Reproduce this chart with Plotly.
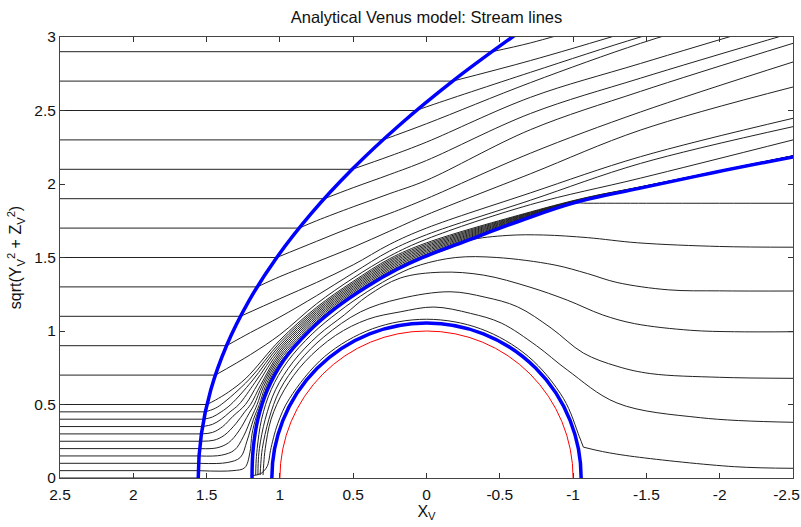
import plotly.graph_objects as go

title_text = "Analytical Venus model: Stream lines"
x_ticks = [2.5, 2, 1.5, 1, 0.5, 0, -0.5, -1, -1.5, -2, -2.5]
x_tick_labels = ["2.5", "2", "1.5", "1", "0.5", "0", "-0.5", "-1", "-1.5", "-2", "-2.5\u00a0\u00a0\u00a0"]
y_ticks = [0, 0.5, 1, 1.5, 2, 2.5, 3]
y_tick_labels = ["0", "0.5", "1", "1.5", "2", "2.5", "3"]

# upstream (solar wind) stream lines: height and x where they meet the bow shock
upstream_y = [0, 0.05, 0.1, 0.15, 0.2, 0.25, 0.3, 0.35, 0.4, 0.45, 0.5,
              0.7, 0.9, 1.1, 1.3, 1.5, 1.7, 1.9, 2.1, 2.3, 2.5, 2.7, 2.9]
shock_cross_x = [1.557, 1.5564, 1.5546, 1.5516, 1.5475, 1.5421, 1.5356, 1.5278, 1.5189, 1.5088, 1.4975,
                 1.4403, 1.3641, 1.2689, 1.1546, 1.0213, 0.8689, 0.6975, 0.507, 0.2975, 0.069, -0.1787, -0.4454]
upstream_x_start = 2.5

# boundaries
bow_shock_x = [1.5356, 1.557, 1.5356, 1.4713, 1.3641, 1.2141, 1.0213, 0.7856, 0.507, 0.1856, -0.1787, -0.5859, -0.7311]
bow_shock_y = [-0.3, 0.0, 0.3, 0.6, 0.9, 1.2, 1.5, 1.8, 2.1, 2.4, 2.7, 3.0, 3.1]
boundary_x = [1.182, 1.19, 1.182, 1.150, 1.085, 0.975, 0.80, 0.62, 0.41, 0.20, 0.041, -0.29, -0.64, -1.0, -1.45, -1.97, -2.51]
boundary_y = [-0.2, 0.0, 0.2, 0.4, 0.6, 0.8, 1.0, 1.156, 1.3, 1.42, 1.494, 1.62, 1.75, 1.87, 1.97, 2.08, 2.186]
obstacle_radius = 1.055
planet_radius = 1.0

# dense sheath bundle (upstream heights 0.05 ... 0.5), from the bow shock onward
b1_x = [1.5564, 1.32, 1.24, 1.205, 1.19, 1.16, 1.13, 1.09, 1.0, 0.75, 0.5, 0.25, 0, -0.71, -1.1, -1.46, -2.5]
b1_y = [0.05, 0.05, 0.07, 0.17, 0.30, 0.42, 0.5, 0.62, 0.785, 1.053, 1.243, 1.398, 1.514, 1.776, 1.892, 1.972, 2.187]
b2_x = [1.5546, 1.36, 1.27, 1.225, 1.18, 1.14, 1.10, 1.0, 0.75, 0.5, 0.25, 0, -0.71, -1.1, -1.46, -2.5]
b2_y = [0.1, 0.105, 0.14, 0.25, 0.40, 0.5, 0.62, 0.802, 1.065, 1.2535, 1.4085, 1.5235, 1.7798, 1.894, 1.973, 2.1876]
b3_x = [1.5516, 1.40, 1.31, 1.25, 1.19, 1.155, 1.11, 1.0, 0.75, 0.5, 0.25, 0, -0.71, -1.1, -1.46, -2.5]
b3_y = [0.15, 0.155, 0.19, 0.28, 0.42, 0.5, 0.625, 0.819, 1.077, 1.264, 1.419, 1.533, 1.7836, 1.896, 1.974, 2.1882]
b4_x = [1.5475, 1.43, 1.35, 1.28, 1.21, 1.175, 1.12, 1.0, 0.75, 0.5, 0.25, 0, -0.71, -1.1, -1.46, -2.5]
b4_y = [0.2, 0.205, 0.24, 0.32, 0.44, 0.5, 0.63, 0.836, 1.089, 1.2745, 1.4295, 1.5425, 1.7874, 1.898, 1.975, 2.1888]
b5_x = [1.5421, 1.45, 1.38, 1.30, 1.24, 1.20, 1.13, 1.0, 0.75, 0.5, 0.25, 0, -0.71, -1.1, -1.46, -2.5]
b5_y = [0.25, 0.257, 0.29, 0.37, 0.45, 0.5, 0.635, 0.853, 1.101, 1.285, 1.44, 1.552, 1.7912, 1.90, 1.976, 2.1894]
b6_x = [1.5356, 1.46, 1.39, 1.32, 1.235, 1.15, 1.0, 0.75, 0.5, 0.25, 0, -0.71, -1.1, -1.46, -2.5]
b6_y = [0.3, 0.31, 0.35, 0.42, 0.5, 0.64, 0.87, 1.113, 1.2955, 1.4505, 1.5615, 1.795, 1.902, 1.977, 2.19]
b7_x = [1.5278, 1.46, 1.40, 1.34, 1.28, 1.17, 1.0, 0.75, 0.5, 0.25, 0, -0.71, -1.1, -1.46, -2.5]
b7_y = [0.35, 0.365, 0.40, 0.45, 0.5, 0.65, 0.887, 1.125, 1.306, 1.461, 1.571, 1.7988, 1.904, 1.978, 2.1906]
b8_x = [1.5189, 1.46, 1.40, 1.335, 1.19, 1.0, 0.75, 0.5, 0.25, 0, -0.71, -1.1, -1.46, -2.5]
b8_y = [0.4, 0.415, 0.45, 0.5, 0.66, 0.904, 1.137, 1.3165, 1.4715, 1.5805, 1.8026, 1.906, 1.979, 2.1912]
b9_x = [1.5088, 1.45, 1.40, 1.21, 1.0, 0.75, 0.5, 0.25, 0, -0.71, -1.1, -1.46, -2.5]
b9_y = [0.45, 0.47, 0.5, 0.67, 0.921, 1.149, 1.327, 1.482, 1.59, 1.8064, 1.908, 1.980, 2.1918]
b10_x = [1.4975, 1.44, 1.35, 1.23, 1.0, 0.75, 0.5, 0.25, 0, -0.71, -1.1, -1.46, -2.5]
b10_y = [0.5, 0.53, 0.585, 0.68, 0.938, 1.161, 1.3375, 1.4925, 1.5995, 1.8102, 1.910, 1.981, 2.1924]

# sheath stream lines (upstream heights 0.7 ... 2.9), from the bow shock onward
s07_x = [1.4403, 1.2, 1.0, 0.75, 0.5, 0.25, 0, -0.71, -1.46, -2.5]
s07_y = [0.7, 0.84, 0.975, 1.185, 1.36, 1.51, 1.625, 1.86, 2.04, 2.30]
s09_x = [1.3641, 1.2, 1.0, 0.75, 0.5, 0.25, 0, -0.71, -1.46, -2.5]
s09_y = [0.9, 0.99, 1.095, 1.24, 1.395, 1.545, 1.655, 1.89, 2.14, 2.39]
s11_x = [1.2689, 1.0, 0.75, 0.5, 0.25, 0, -0.71, -1.46, -2.5]
s11_y = [1.1, 1.22, 1.33, 1.45, 1.59, 1.70, 1.94, 2.186, 2.447]
s13_x = [1.1546, 1.0, 0.75, 0.5, 0.25, 0, -0.71, -1.46, -2.5]
s13_y = [1.3, 1.37, 1.47, 1.57, 1.68, 1.79, 2.07, 2.367, 2.66]
s15_x = [1.0213, 0.75, 0.5, 0.25, 0, -0.71, -1.46, -2.5]
s15_y = [1.5, 1.61, 1.71, 1.80, 1.90, 2.21, 2.49, 2.83]
s17_x = [0.8689, 0.75, 0.5, 0.25, 0, -0.71, -1.46, -2.5]
s17_y = [1.7, 1.75, 1.845, 1.935, 2.025, 2.37, 2.63, 2.957]
s19_x = [0.6975, 0.5, 0.25, 0, -0.71, -1.46, -2.5]
s19_y = [1.9, 1.975, 2.065, 2.16, 2.48, 2.72, 3.03]
s21_x = [0.507, 0.25, 0, -0.71, -1.46, -2.5]
s21_y = [2.1, 2.19, 2.285, 2.59, 2.82, 3.13]
s23_x = [0.2975, 0, -0.71, -1.46, -2.0]
s23_y = [2.3, 2.41, 2.69, 2.957, 3.12]
s25_x = [0.069, 0, -0.71, -1.46, -2.0]
s25_y = [2.5, 2.525, 2.76, 3.0, 3.15]
s27_x = [-0.1787, -0.71, -1.46]
s27_y = [2.7, 2.84, 3.06]
s29_x = [-0.4454, -0.71, -1.2]
s29_y = [2.9, 2.96, 3.1]

# stream lines inside the induced magnetosphere boundary
l1_x = [1.2, 1.13, 1.088, 1.075, 1.064, 1.015, 0.935, 0.694, 0.369, 0, -0.369, -0.694, -0.935, -1.043, -1.07]
l1_y = [0.015, 0.03, 0.077, 0.12, 0.188, 0.369, 0.54, 0.827, 1.015, 1.08, 1.015, 0.827, 0.54, 0.28, 0.21]
l1_tail_x = [-1.07, -1.2, -1.42, -2.1, -2.5]
l1_tail_y = [0.21, 0.18, 0.145, 0.077, 0.066]
l2_x = [1.115, 1.11, 1.10, 1.06, 0.97, 0.83, 0.62, 0.40, 0.18, -0.05, -0.3, -0.51, -0.75, -0.96, -1.30, -1.87, -2.5]
l2_y = [0.02, 0.1, 0.2, 0.4, 0.6, 0.79, 0.97, 1.08, 1.13, 1.163, 1.12, 1.054, 0.9, 0.735, 0.51, 0.41, 0.379]
l3_x = [1.135, 1.13, 1.12, 1.075, 1.0, 0.87, 0.70, 0.45, 0.18, -0.16, -0.40, -0.62, -0.85, -1.07, -1.30, -1.53, -2.0, -2.5]
l3_y = [0.02, 0.1, 0.2, 0.4, 0.6, 0.79, 0.96, 1.13, 1.22, 1.267, 1.23, 1.165, 1.02, 0.85, 0.76, 0.71, 0.685, 0.678]
l4_x = [1.15, 1.148, 1.14, 1.10, 1.03, 0.91, 0.74, 0.56, 0.40, 0.18, -0.1, -0.39, -0.7, -0.96, -1.2, -1.42, -1.8, -2.1, -2.5]
l4_y = [0.02, 0.1, 0.2, 0.4, 0.6, 0.79, 0.97, 1.11, 1.24, 1.36, 1.40, 1.38, 1.30, 1.21, 1.11, 1.05, 1.005, 0.995, 0.995]
l5_x = [1.165, 1.163, 1.155, 1.125, 1.06, 0.95, 0.78, 0.60, 0.40, 0.2, 0.04, -0.2, -0.48, -0.87, -1.1, -1.30, -1.65, -2.0, -2.5]
l5_y = [0.02, 0.1, 0.2, 0.4, 0.6, 0.79, 0.98, 1.13, 1.27, 1.385, 1.45, 1.50, 1.50, 1.45, 1.39, 1.33, 1.28, 1.273, 1.272]
l6_x = [1.19, 1.182, 1.150, 1.085, 0.975, 0.80, 0.62, 0.41, 0.20, 0.041, -0.15, -0.29, -0.55, -0.8, -1.1, -1.44, -2.0, -2.5]
l6_y = [0.0, 0.2, 0.4, 0.6, 0.8, 1.0, 1.156, 1.3, 1.42, 1.494, 1.56, 1.617, 1.65, 1.653, 1.635, 1.60, 1.575, 1.57]
l7_x = [0.041, -0.29, -0.64, -1.0, -1.1, -1.5, -2.0, -2.5]
l7_y = [1.494, 1.62, 1.75, 1.868, 1.869, 1.869, 1.869, 1.869]

sheath_lines = [(b1_x, b1_y), (b2_x, b2_y), (b3_x, b3_y), (b4_x, b4_y), (b5_x, b5_y),
                (b6_x, b6_y), (b7_x, b7_y), (b8_x, b8_y), (b9_x, b9_y), (b10_x, b10_y),
                (s07_x, s07_y), (s09_x, s09_y), (s11_x, s11_y), (s13_x, s13_y), (s15_x, s15_y),
                (s17_x, s17_y), (s19_x, s19_y), (s21_x, s21_y), (s23_x, s23_y), (s25_x, s25_y),
                (s27_x, s27_y), (s29_x, s29_y)]
inner_lines = [(l1_x, l1_y), (l1_tail_x, l1_tail_y), (l2_x, l2_y), (l3_x, l3_y), (l4_x, l4_y),
               (l5_x, l5_y), (l6_x, l6_y), (l7_x, l7_y)]

BLACK = "#222222"
BLUE = "#0000ff"
RED = "#ff0000"
FONT_FAMILY = "Liberation Sans, Arial, Helvetica, sans-serif"

fig = go.Figure()

# upstream straight lines
ux, uy = [], []
for y0, xs in zip(upstream_y, shock_cross_x):
    ux += [upstream_x_start, xs, None]
    uy += [y0, y0, None]
fig.add_trace(go.Scatter(x=ux, y=uy, mode="lines", line=dict(color=BLACK, width=1),
                         hoverinfo="skip", showlegend=False))

for xs_, ys_ in sheath_lines + inner_lines:
    fig.add_trace(go.Scatter(x=xs_, y=ys_, mode="lines",
                             line=dict(color=BLACK, width=1, shape="spline", smoothing=1.0),
                             hoverinfo="skip", showlegend=False))

# boundaries on top
fig.add_trace(go.Scatter(x=bow_shock_x, y=bow_shock_y, mode="lines",
                         line=dict(color=BLUE, width=3.5, shape="spline", smoothing=1.0),
                         hoverinfo="skip", showlegend=False))
fig.add_trace(go.Scatter(x=boundary_x, y=boundary_y, mode="lines",
                         line=dict(color=BLUE, width=3.5, shape="spline", smoothing=1.0),
                         hoverinfo="skip", showlegend=False))

fig.add_shape(type="circle", xref="x", yref="y",
              x0=-planet_radius, x1=planet_radius, y0=-planet_radius, y1=planet_radius,
              line=dict(color=RED, width=1), layer="above")
fig.add_shape(type="circle", xref="x", yref="y",
              x0=-obstacle_radius, x1=obstacle_radius, y0=-obstacle_radius, y1=obstacle_radius,
              line=dict(color=BLUE, width=3.5), layer="above")

tick_font = dict(family=FONT_FAMILY, size=15.5, color="#111111")
label_font = dict(family=FONT_FAMILY, size=16, color="#111111")
title_font = dict(family=FONT_FAMILY, size=16.5, color="#111111")
fig.update_layout(
    width=801, height=527, autosize=False,
    margin=dict(l=60, r=8, t=37, b=49, pad=0, autoexpand=False),
    paper_bgcolor="white", plot_bgcolor="white",
    title=dict(text=title_text, x=0.5, xref="paper", xanchor="center",
               y=1 - 17 / 527, yref="container", yanchor="middle",
               font=title_font),
    font=tick_font,
    xaxis=dict(range=[2.5, -2.5], tickvals=x_ticks, ticktext=x_tick_labels,
               ticks="inside", ticklen=5, tickcolor="#333333", tickwidth=1,
               showline=True, linecolor="#444444", linewidth=1, mirror="ticks",
               showgrid=False, zeroline=False, tickfont=tick_font, automargin=False,
               ticklabeloverflow="allow", ticklabelstandoff=2,
               title=dict(text="X<sub>V</sub>", font=label_font, standoff=0)),
    yaxis=dict(range=[0, 3], tickvals=y_ticks, ticktext=y_tick_labels,
               ticks="inside", ticklen=5, tickcolor="#333333", tickwidth=1,
               showline=True, linecolor="#444444", linewidth=1, mirror="ticks",
               showgrid=False, zeroline=False, tickfont=tick_font, automargin=False,
               ticklabeloverflow="allow",
               title=dict(text="sqrt(Y<sub>V</sub><sup>2</sup> + Z<sub>V</sub><sup>2</sup>)",
                          font=label_font, standoff=8)),
)

fig.write_html("out.html", config={"displayModeBar": False},
               post_script="document.body.style.margin='0px';document.body.style.padding='0px';")
